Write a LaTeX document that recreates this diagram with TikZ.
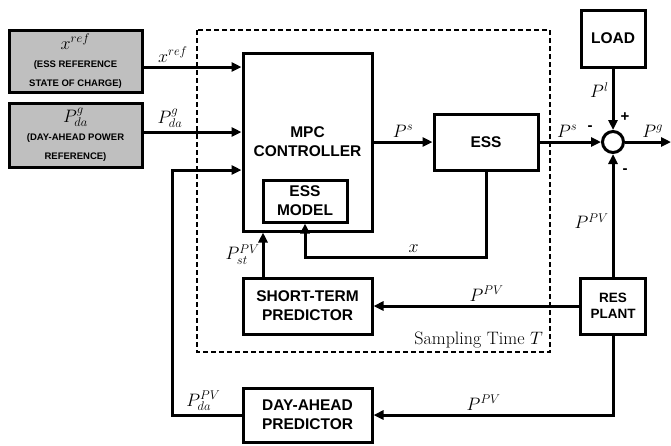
\documentclass[tikz,border=0pt]{standalone}
\usepackage{fix-cm}
\usepackage{fontspec}
\newfontfamily\arialfont{Liberation Sans}
\usetikzlibrary{arrows.meta,positioning,calc}

\newcommand{\msz}{\fontsize{18}{20}\selectfont}
\newcommand{\tagsz}{\fontsize{9.5}{11.5}\selectfont}

\begin{document}
\begin{tikzpicture}[x=1pt, y=-1pt,
  blk/.style={draw, line width=3pt, align=center, inner sep=0pt, font=\arialfont\bfseries\fontsize{15.5}{19}\selectfont},
  refbox/.style={blk, fill=black!25, minimum width=133pt},
  arr/.style={-{Triangle[length=10pt,width=9pt]}, line width=3pt},
  lbl/.style={font=\msz, inner sep=3pt},
  sgn/.style={font=\arialfont\bfseries\fontsize{15}{17}\selectfont, inner sep=0pt}]
\useasboundingbox (0,0) rectangle (671,445);

% sampling window
\draw[line width=1.6pt, dash pattern=on 5pt off 3pt] (197,30) rectangle (550,352);
\node[font=\fontsize{18}{20}\selectfont, anchor=base east, inner sep=0pt] (samp) at (543,344) {Sampling Time $T$};

% references
\node[refbox, minimum height=62pt] (xref) at (75.5,61) {\msz$x^{ref}$\\[-1pt]{\tagsz (ESS REFERENCE}\\{\tagsz STATE OF CHARGE)}};
\node[refbox, minimum height=64pt] (pdag) at (75.5,135) {\msz$P^{g}_{da}$\\[-1pt]{\tagsz (DAY-AHEAD POWER}\\{\tagsz REFERENCE)}};

% blocks
\node[blk, minimum width=129pt, minimum height=178pt] (mpc) at (307.5,142) {MPC\\CONTROLLER};
\node[blk, minimum width=84pt, minimum height=42pt] (essm) at (305,201) {ESS\\MODEL};
\node[blk, minimum width=104pt, minimum height=56pt] (ess) at (486,142) {ESS};
\node[blk, minimum width=64pt, minimum height=57pt] (load) at (613,38.5) {LOAD};
\node[draw, circle, line width=3pt, minimum size=21pt, inner sep=0pt] (sum) at (613,142) {};
\node[blk, minimum width=65pt, minimum height=56pt, font=\arialfont\bfseries\fontsize{13.5}{16}\selectfont] (res) at (613,306) {RES\\PLANT};
\node[blk, minimum width=129pt, minimum height=56pt] (stp) at (307.5,306) {SHORT-TERM\\PREDICTOR};
\node[blk, minimum width=129pt, minimum height=54pt] (dap) at (307.5,415) {DAY-AHEAD\\PREDICTOR};

\coordinate (fb) at (172,170);
\coordinate (xfb) at (305,257);
\coordinate (out) at (671,142);

% connectors
\draw[arr] ([yshift=-6pt]xref.east) -- node[lbl, above, pos=0.3] {$x^{ref}$} ([yshift=-6pt]xref.east -| mpc.west);
\draw[arr] ([yshift=3pt]pdag.east) -- node[lbl, above, pos=0.27] {$P^{g}_{da}$} ([yshift=3pt]pdag.east -| mpc.west);
\draw[arr] (dap.west) -- node[lbl, above, pos=0.55] {$P^{PV}_{da}$} (dap.west -| fb) |- (fb -| mpc.west);
\draw[arr] (mpc.east) -- node[lbl, above] {$P^{s}$} (ess.west);
\draw[arr] (ess.east) -- node[lbl, above, pos=0.45] {$P^{s}$} (sum.west);
\draw[arr] (load.south) -- node[lbl, left, pos=0.35] {$P^{l}$} (sum.north);
\draw[arr] (sum.east) -- node[lbl, above, pos=0.6] {$P^{g}$} (out);
\draw[arr] (res.north) -- node[lbl, left, pos=0.45] {$P^{PV}$} (sum.south);
\draw[arr] (res.west) -- node[lbl, above, pos=0.45] {$P^{PV}$} (stp.east);
\draw[arr] (res.south) |- node[lbl, above, pos=0.77] {$P^{PV}$} (dap.east);
\draw[arr] (ess.south) |- node[lbl, above, pos=0.7] {$x$} (xfb) -- (essm.south);
\draw[arr] ([xshift=-44.5pt]stp.north) -- node[lbl, left, inner sep=2pt] {$P^{PV}_{st}$} ([xshift=-44.5pt]mpc.south);

% signs
\node[sgn] (m1) at (590,128) {-};
\node[sgn] (p1) at (625,117) {+};
\node[sgn] (m2) at (625,171) {-};
\end{tikzpicture}
\end{document}
